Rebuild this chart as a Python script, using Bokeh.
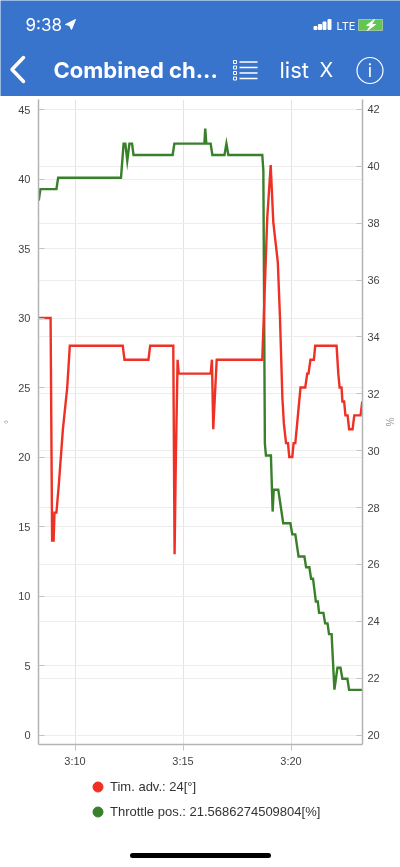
from bokeh.plotting import figure
from bokeh.models import Range1d, LinearAxis, Legend, LegendItem, FixedTicker, Grid
from bokeh.core.properties import value
from bokeh.embed import file_html
from bokeh.resources import INLINE

# minutes past 3:00
tim_t = [8.31,8.87,8.94,9.01,9.05,9.14,9.25,9.44,9.64,9.76,12.21,12.29,13.40,13.48,14.55,14.61,14.67,14.75,14.80,
         16.28,16.34,16.40,16.56,18.67,18.90,19.06,19.18,19.39,19.49,19.60,19.67,19.77,19.86,19.92,20.06,20.12,20.20,
         20.32,20.44,20.66,20.75,20.81,20.90,21.06,21.12,22.11,22.19,22.25,22.34,22.38,22.46,22.52,22.62,22.69,22.85,
         22.93,23.22,23.30]
tim_v = [30,30,14,14,16,16,18,22,25,28,28,27,27,28,28,13,20,27,26,
         26,27,22,27,27,37.2,41,36.9,34,30,24.3,22.4,21,21,20,20,21,21,
         23,25,25,26,26,27,27,28,28,26,25,25,24,24,23,23,22,22,
         23,23,24]

thr_t = [8.32,8.40,9.14,9.22,12.13,12.25,12.33,12.42,12.52,12.64,12.71,14.52,14.60,15.99,16.03,16.08,16.28,16.36,
         16.92,17.01,17.10,18.67,18.72,18.79,18.84,19.07,19.15,19.20,19.41,19.64,19.97,20.06,20.20,20.35,20.62,20.70,
         20.85,20.93,21.02,21.15,21.24,21.30,21.50,21.58,21.69,21.76,21.88,22.01,22.15,22.29,22.38,22.61,22.69,23.30]
thr_v = [38.8,39.2,39.2,39.6,39.6,40.8,40.8,40.2,40.8,40.8,40.4,40.4,40.8,40.8,41.33,40.8,40.8,40.4,
         40.4,40.8,40.4,40.4,39.85,30.25,29.83,29.83,27.86,28.63,28.63,27.45,27.45,27.06,27.06,26.28,26.28,25.9,
         25.9,25.5,25.5,24.7,24.7,24.3,24.3,23.93,23.93,23.55,23.55,21.6,22.37,22.37,21.98,21.98,21.59,21.59]

x_ticks = [10, 15, 20]
x_tick_labels = {10: "3:10", 15: "3:15", 20: "3:20"}
left_ticks = [0, 5, 10, 15, 20, 25, 30, 35, 40, 45]
right_ticks = [20, 22, 24, 26, 28, 30, 32, 34, 36, 38, 40, 42]
tim_label = "Tim. adv.: 24[°]"
thr_label = "Throttle pos.: 21.5686274509804[%]"

RED = "#ee3124"
GREEN = "#38802a"
BLUE = "#3873cc"
FONT = "Liberation Sans"

def fixed(top):
    return {"position": "fixed", "left": "0", "top": f"{top}px"}

# ---- header bar ----
hdr = figure(width=400, height=96, x_range=(0, 400), y_range=(96, 0), toolbar_location=None,
             output_backend="svg", min_border=0, background_fill_color=BLUE, border_fill_color=BLUE,
             outline_line_color=None, styles=fixed(0))
hdr.axis.visible = False
hdr.grid.visible = False
def htext(x, y, t, size, align="left", font="Inter", style="normal"):
    hdr.text([x], [y], text=[t], text_color="white", text_font=value(font), text_font_size=size,
             text_align=align, text_baseline="middle", text_font_style=style)
htext(25, 24.5, "9:38", "17px")
htext(336, 25, "LTE", "11px")
htext(53, 69, "Combined ch...", "22px", style="bold")
htext(279, 69, "list", "22px")
htext(319, 69, "X", "20px")
htext(369.5, 70, "i", "18px", align="center")
# location arrow
hdr.patch([65, 75, 71, 69], [24, 19, 29, 25], color="white")
# signal bars
hdr.vbar(x=[315, 319.5, 324, 329], top=[26, 24, 21.5, 19], bottom=[29, 29, 29, 29], width=3, color="white")
# battery
hdr.rect([370], [24.5], width=24, height=11, fill_color="#62c554", line_color="#9fc4a0", line_width=1)
hdr.patch([374, 366, 370, 367, 375, 371], [19, 25, 25, 30, 24, 24], color="white")
# back chevron
hdr.line([23, 11.5, 23], [57, 69, 81], line_color="white", line_width=3.5, line_cap="round", line_join="round")
# list icon
hdr.multi_line([[239, 257]] * 4, [[61.5, 61.5], [67, 67], [72.5, 72.5], [78, 78]], line_color="white", line_width=1.5)
hdr.rect([234.5] * 4, [61.5, 67, 72.5, 78], width=3, height=3, fill_color=None, line_color="white")
# info ring
hdr.circle([369.5], [70], radius=13, fill_color=None, line_color="white", line_width=1.2)

# ---- chart ----
p = figure(width=400, height=674, frame_width=324, frame_height=645, toolbar_location=None, output_backend="svg",
           x_range=Range1d(8.31, 23.31), y_range=Range1d(-0.68, 45.72), min_border_left=38, min_border_right=38,
           min_border_top=3, min_border_bottom=26, outline_line_color=None, styles=fixed(96))
p.extra_y_ranges = {"pct": Range1d(19.67, 42.35)}
TICKC = "#444444"
def style(ax):
    ax.axis_line_color = "#b4b4b4"
    ax.axis_line_width = 1.5
    ax.major_tick_line_color = "#c4c4c4"
    ax.minor_tick_line_color = None
    ax.major_label_text_color = TICKC
    ax.major_label_text_font = FONT
    ax.major_label_text_font_size = "11px"
    ax.axis_label_text_color = "#999999"
    ax.axis_label_text_font = FONT
    ax.axis_label_text_font_size = "10px"
    ax.axis_label_text_font_style = "normal"
    ax.axis_label_standoff = 1

xa = p.xaxis[0]
xa.ticker = FixedTicker(ticks=x_ticks)
xa.major_label_overrides = x_tick_labels
xa.major_tick_in = 0
xa.major_tick_out = 6
xa.major_label_standoff = 4
style(xa)

ya = p.yaxis[0]
ya.ticker = FixedTicker(ticks=left_ticks)
ya.axis_label = "°"
ya.major_tick_in = 6
ya.major_tick_out = 0
ya.major_label_standoff = 8
style(ya)

yr = LinearAxis(y_range_name="pct", ticker=FixedTicker(ticks=right_ticks), axis_label="%")
yr.major_tick_in = 6
yr.major_tick_out = 0
yr.major_label_standoff = 5
style(yr)
p.add_layout(yr, "right")

p.xgrid[0].ticker = FixedTicker(ticks=x_ticks)
p.xgrid[0].grid_line_color = "#e4e4e4"
p.ygrid[0].ticker = FixedTicker(ticks=left_ticks)
p.ygrid[0].grid_line_color = "#ececec"
g2 = Grid(dimension=1, ticker=FixedTicker(ticks=right_ticks), y_range_name="pct", grid_line_color="#ececec")
p.add_layout(g2, "center")

p.line(thr_t, thr_v, y_range_name="pct", line_color=GREEN, line_width=2.4, line_join="miter")
p.line(tim_t, tim_v, line_color=RED, line_width=2.4, line_join="miter")

# ---- legend strip ----
lf = figure(width=400, height=66, x_range=(0, 1), y_range=(0, 1), toolbar_location=None, output_backend="svg",
            min_border=0, outline_line_color=None, styles=fixed(770))
lf.axis.visible = False
lf.grid.visible = False
d1 = lf.scatter([float("nan")], [float("nan")], size=11, color=RED)
d2 = lf.scatter([float("nan")], [float("nan")], size=11, color=GREEN)
leg = Legend(items=[LegendItem(label=tim_label, renderers=[d1]), LegendItem(label=thr_label, renderers=[d2])],
             location=(85, 12), orientation="vertical", border_line_color=None, background_fill_alpha=0,
             label_text_font=FONT, label_text_font_size="13px", label_text_color="#333333",
             glyph_width=25, glyph_height=25, spacing=0, padding=0, margin=0, label_standoff=0)
lf.add_layout(leg, "center")

# ---- footer with home bar ----
ftr = figure(width=400, height=27, x_range=(0, 400), y_range=(27, 0), toolbar_location=None, output_backend="svg",
             min_border=0, outline_line_color=None, background_fill_color="white", border_fill_color="white",
             styles=fixed(840))
ftr.axis.visible = False
ftr.grid.visible = False
ftr.line([132, 268], [15, 15], line_color="black", line_width=5, line_cap="round")

open("out.html", "w").write(file_html((hdr, p, lf, ftr), INLINE))
